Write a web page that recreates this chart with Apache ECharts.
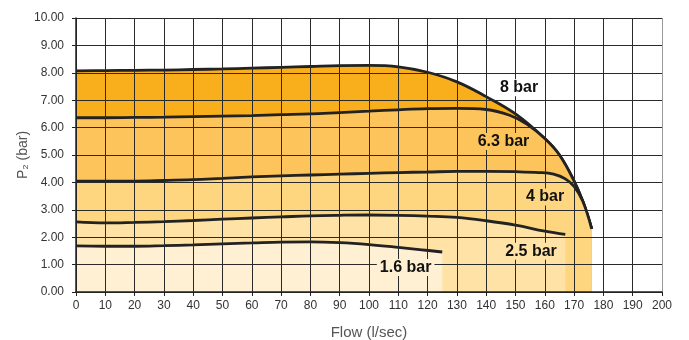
<!DOCTYPE html>
<html>
<head>
<meta charset="utf-8">
<script src="https://cdn.jsdelivr.net/npm/echarts@6/dist/echarts.min.js"></script>
<style>html,body{margin:0;padding:0;background:#fff;}#c{width:689px;height:340px;}</style>
</head>
<body>
<div id="c"></div>
<script>
// Curve data: [flow l/sec, P2 bar]
const bar8 = [[0,8.07],[10,8.08],[20,8.09],[30,8.1],[40,8.12],[50,8.14],[60,8.17],[70,8.2],[80,8.23],[90,8.26],[100,8.27],[110,8.22],[120,8.02],[130,7.67],[140,7.13],[150,6.5],[160,5.6],[165,5.0],[170,4.05],[173,3.3],[176,2.3]];
const bar63 = [[0,6.36],[10,6.36],[20,6.37],[30,6.38],[40,6.4],[50,6.42],[60,6.44],[70,6.47],[80,6.5],[90,6.55],[100,6.6],[110,6.65],[120,6.69],[130,6.7],[140,6.66],[148,6.45],[154,6.12],[160,5.6],[165,5.0],[170,4.05],[173,3.3],[176,2.3]];
const bar4 = [[0,4.05],[10,4.05],[20,4.05],[30,4.07],[40,4.1],[50,4.15],[60,4.2],[70,4.24],[80,4.27],[90,4.3],[100,4.33],[110,4.36],[120,4.38],[130,4.4],[140,4.4],[150,4.39],[158,4.36],[163,4.3],[167,4.13],[170,3.85],[173,3.3],[176,2.3]];
const bar25 = [[0,2.56],[10,2.52],[20,2.54],[30,2.57],[40,2.61],[50,2.66],[60,2.7],[70,2.74],[80,2.78],[90,2.8],[100,2.81],[110,2.8],[120,2.77],[130,2.72],[140,2.6],[150,2.44],[160,2.22],[167,2.1]];
const bar16 = [[0,1.68],[10,1.67],[20,1.67],[30,1.69],[40,1.72],[50,1.76],[60,1.79],[70,1.82],[80,1.83],[90,1.8],[100,1.73],[110,1.63],[118,1.54],[125,1.46]];
const curveNames = ['8 bar','6.3 bar','4 bar','2.5 bar','1.6 bar'];
const curveColors = ['#F9AF1B','#FDC45C','#FED67F','#FFE3A6','#FFF0D4'];
const curves = [bar8, bar63, bar4, bar25, bar16];
// Label anchor positions (data coordinates)
const labelPos = [[151.2,7.45],[145.9,5.49],[160.1,3.47],[155.3,1.49],[112.5,0.89]];
const labelBg = ['#FFFFFF','#FDC45C','#FED67F','#FFE3A6','#FFF0D4'];

const xColors = [];
for (let i = 0; i <= 20; i++) xColors.push(i === 20 ? '#999' : '#2a2a2a');

const font = 'Liberation Sans, Arial, sans-serif';
const series = curves.map((d, i) => ({
  name: curveNames[i], type: 'line', data: d, smooth: 0.4,
  showSymbol: false, z: 2 + i * 0.1,
  lineStyle: {color: '#222', width: 2.8},
  areaStyle: {color: curveColors[i], opacity: 1}
}));
series.push({
  type: 'scatter', z: 10, symbolSize: 0, silent: true,
  data: labelPos.map((p, i) => ({value: p, name: curveNames[i],
    label: {backgroundColor: labelBg[i]}})),
  label: {show: true, position: 'inside', formatter: '{b}', color: '#111', opacity: 1,
    fontFamily: font, fontWeight: 'bold', fontSize: 16, padding: [1, 3, 0, 3]}
});

const chart = echarts.init(document.getElementById('c'), null, {renderer: 'canvas'});
chart.setOption({
  animation: false,
  grid: {left: 76, right: 27, top: 18, bottom: 48, containLabel: false, outerBoundsMode: 'none'},
  xAxis: {
    type: 'value', min: 0, max: 200, interval: 10, z: 4,
    name: 'Flow (l/sec)', nameLocation: 'middle', nameGap: 33,
    nameTextStyle: {color: '#555', fontSize: 15, fontFamily: font},
    axisLine: {show: true, lineStyle: {color: '#222', width: 1.5}},
    axisTick: {show: true, length: 4, lineStyle: {color: '#222'}},
    axisLabel: {color: '#333', fontSize: 12, fontFamily: font, margin: 8},
    splitLine: {show: true, lineStyle: {color: xColors, width: 1}}
  },
  yAxis: {
    type: 'value', min: 0, max: 10, interval: 1, z: 4,
    name: 'P\u2082 (bar)', nameLocation: 'middle', nameGap: 46, nameMoveOverlap: false,
    nameTextStyle: {color: '#555', fontSize: 14, fontFamily: font},
    axisLine: {show: true, lineStyle: {color: '#222', width: 1.5}},
    axisTick: {show: true, length: 4, lineStyle: {color: '#222'}},
    axisLabel: {color: '#333', fontSize: 12, fontFamily: font, margin: 12,
      formatter: v => v.toFixed(2)},
    splitLine: {show: true, lineStyle: {color: '#2a2a2a', width: 1}}
  },
  series: series
});
</script>
</body>
</html>
